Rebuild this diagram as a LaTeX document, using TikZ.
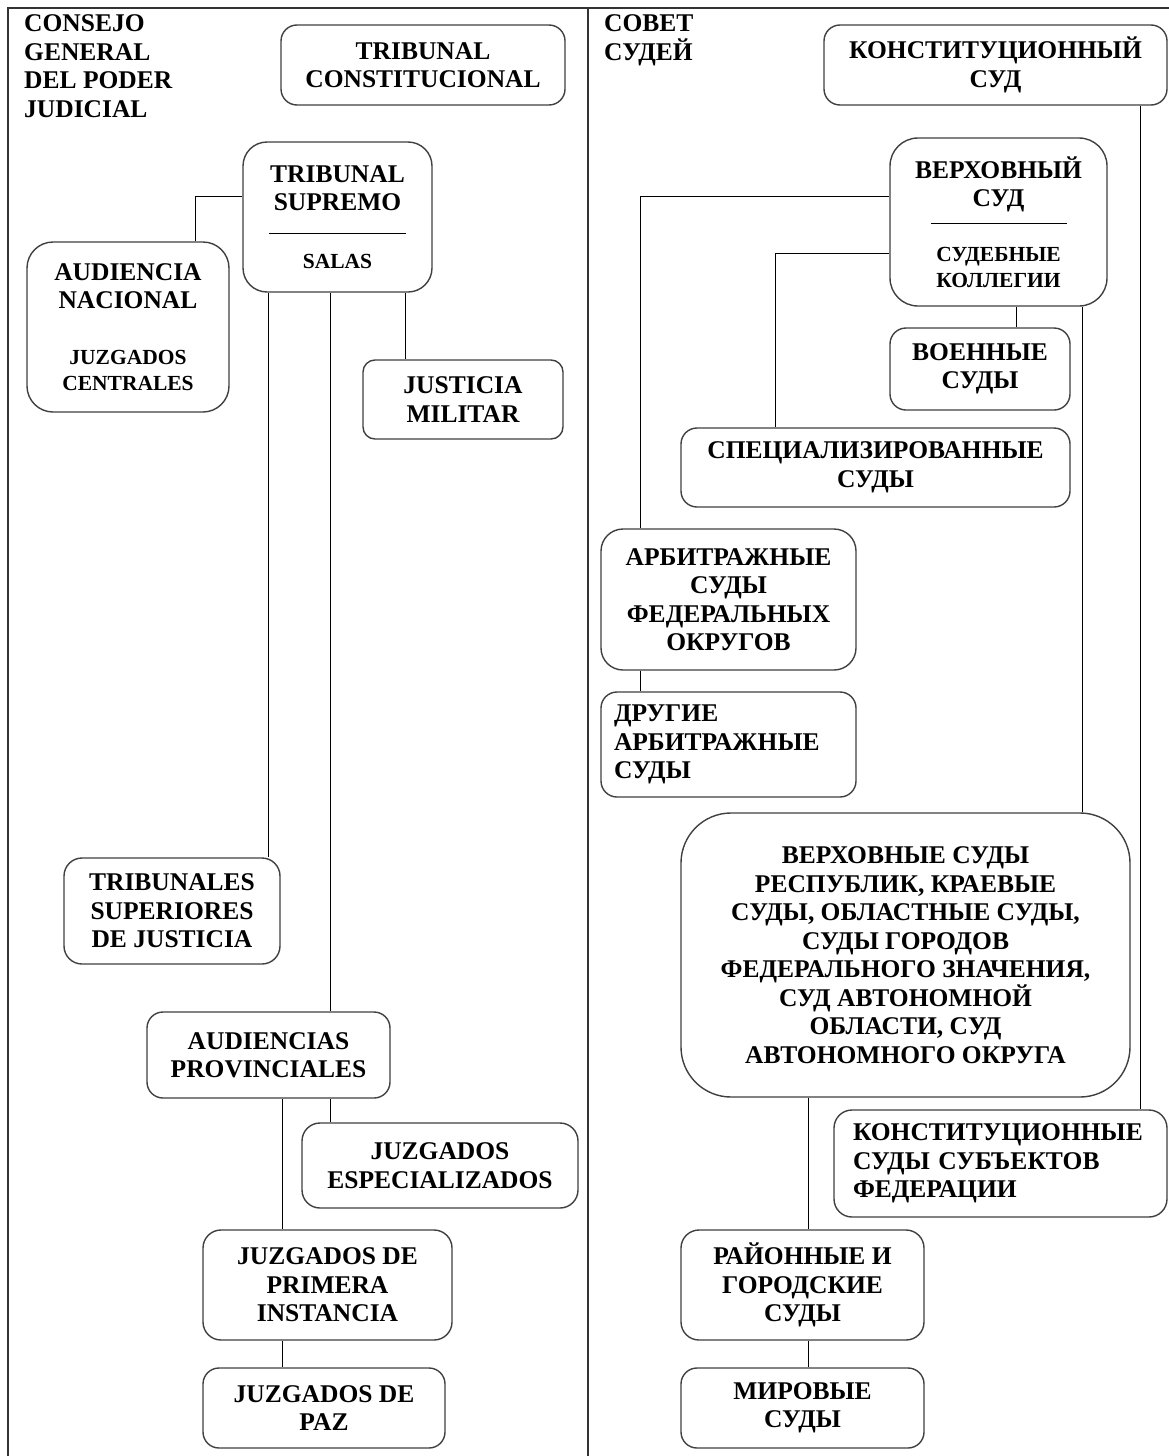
\documentclass[tikz,border=0pt]{standalone}
\usepackage{fontspec}
\setmainfont{Liberation Serif}
\newcommand\bigtxt{\bfseries\fontsize{25.5}{28.5}\selectfont}
\newcommand\smtxt{\fontsize{21.5}{25}\selectfont}
\begin{document}
\begin{tikzpicture}[x=1pt, y=-1pt,
    court/.style={draw=black!75, line width=1.4pt, fill=white, rounded corners=16pt,
                  align=center, inner sep=0pt, font=\bigtxt},
    head/.style={align=left, anchor=north west, inner sep=0pt, font=\bigtxt},
    link/.style={line width=1pt}]
  \useasboundingbox (0,0) rectangle (1169,1456);
  \draw[line width=1.4pt, black!80] (8,1456) -- (8,8) -- (1169,8)
                                    (588,8) -- (588,1456);

  \node[head] (cgpj) at (24,14.5) {CONSEJO\\GENERAL\\DEL PODER\\JUDICIAL};
  \node[head] (sovet) at (604,14.5) {СОВЕТ\\СУДЕЙ};

  \node[court, minimum width=284, minimum height=80] (tc) at (423,65) {TRIBUNAL\\CONSTITUCIONAL};
  \node[court, minimum width=189, minimum height=150, rounded corners=24pt] (ts) at (337.5,217)
       {TRIBUNAL\\SUPREMO\\ \rule[5pt]{137pt}{1pt}\\[0.5pt]{\smtxt SALAS}};
  \node[court, minimum width=202, minimum height=170, rounded corners=26pt] (an) at (128,327)
       {AUDIENCIA\\NACIONAL\\[27pt]{\smtxt JUZGADOS}\\[-2.5pt]{\smtxt CENTRALES}};
  \node[court, minimum width=200, minimum height=79, rounded corners=12pt] (jm) at (463,399.5) {JUSTICIA\\MILITAR};
  \node[court, minimum width=216, minimum height=106, rounded corners=18pt] (tsj) at (172,911)
       {TRIBUNALES\\SUPERIORES\\DE JUSTICIA};
  \node[court, minimum width=243, minimum height=86] (ap) at (268.5,1055) {AUDIENCIAS\\PROVINCIALES};
  \node[court, minimum width=276, minimum height=85, rounded corners=18pt] (je) at (440,1165.5)
       {JUZGADOS\\ESPECIALIZADOS};
  \node[court, minimum width=249, minimum height=110, rounded corners=18pt] (jpi) at (327.5,1285)
       {JUZGADOS DE\\PRIMERA\\INSTANCIA};
  \node[court, minimum width=242, minimum height=80] (jp) at (324,1408) {JUZGADOS DE\\PAZ};

  \node[court, minimum width=343, minimum height=80] (ks) at (995.5,65) {КОНСТИТУЦИОННЫЙ\\СУД};
  \node[court, minimum width=217, minimum height=168, rounded corners=28pt] (vs) at (998.5,222)
       {ВЕРХОВНЫЙ\\СУД\\ \rule[11pt]{136pt}{1pt}\\[-2.5pt]{\smtxt СУДЕБНЫЕ}\\[-2.5pt]{\smtxt КОЛЛЕГИИ}};
  \node[court, minimum width=180, minimum height=82] (vsud) at (980,369) {ВОЕННЫЕ\\СУДЫ};
  \node[court, minimum width=389, minimum height=79] (spec) at (875.5,467.5) {СПЕЦИАЛИЗИРОВАННЫЕ\\СУДЫ};
  \node[court, minimum width=255, minimum height=141, rounded corners=22pt] (arb) at (728.5,599.5)
       {АРБИТРАЖНЫЕ\\СУДЫ\\ФЕДЕРАЛЬНЫХ\\ОКРУГОВ};
  \node[court, minimum width=255, minimum height=105, text width=229, align=left] (darb) at (728.5,744.5)
       {ДРУГИЕ\\АРБИТРАЖНЫЕ\\СУДЫ};
  \node[court, minimum width=449, minimum height=284, rounded corners=50pt] (vsr) at (905.5,955)
       {ВЕРХОВНЫЕ СУДЫ\\РЕСПУБЛИК, КРАЕВЫЕ\\СУДЫ, ОБЛАСТНЫЕ СУДЫ,\\СУДЫ ГОРОДОВ\\
        ФЕДЕРАЛЬНОГО ЗНАЧЕНИЯ,\\СУД АВТОНОМНОЙ\\ОБЛАСТИ, СУД\\АВТОНОМНОГО ОКРУГА};
  \node[court, minimum width=333, minimum height=107, text width=295, align=left, rounded corners=18pt]
       (kss) at (1000.5,1163.5) {КОНСТИТУЦИОННЫЕ\\СУДЫ СУБЪЕКТОВ\\ФЕДЕРАЦИИ};
  \node[court, minimum width=243, minimum height=110, rounded corners=18pt] (rgs) at (802.5,1285)
       {РАЙОННЫЕ И\\ГОРОДСКИЕ\\СУДЫ};
  \node[court, minimum width=243, minimum height=80] (ms) at (802.5,1408) {МИРОВЫЕ\\СУДЫ};

  \draw[link] (an.north -| 195,0) |- (ts.west |- 0,196)
              (ts.south -| 268,0) -- (tsj.north -| 268,0)
              (ts.south -| 330,0) -- (ap.north -| 330,0)
              (ts.south -| 405,0) -- (jm.north -| 405,0)
              (ap.south -| 282,0) -- (jpi.north -| 282,0)
              (ap.south -| 330,0) -- (je.north -| 330,0)
              (jpi.south -| 282,0) -- (jp.north -| 282,0);
  \draw[link] (arb.north -| 640,0) |- (vs.west |- 0,196)
              (spec.north -| 775,0) |- (vs.west |- 0,253)
              (vs.south -| 1016,0) -- (vsud.north -| 1016,0)
              (vs.south -| 1082,0) -- (vsr.north -| 1082,0)
              (ks.south -| 1140,0) -- (kss.north -| 1140,0)
              (arb.south -| 640,0) -- (darb.north -| 640,0)
              (vsr.south -| 808,0) -- (rgs.north -| 808,0)
              (rgs.south -| 808,0) -- (ms.north -| 808,0);
\end{tikzpicture}
\end{document}
